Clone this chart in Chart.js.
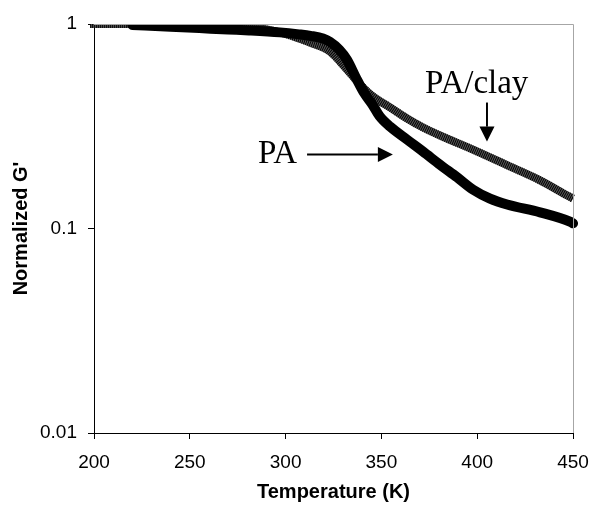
<!DOCTYPE html>
<html>
<head>
<meta charset="utf-8">
<script src="https://cdn.jsdelivr.net/npm/chart.js@4/dist/chart.umd.min.js"></script>
<style>
  html, body { margin: 0; padding: 0; background: #fff; }
  #wrap { width: 593px; height: 509px; position: relative; }
</style>
</head>
<body>
<div id="wrap"><canvas id="c" width="593" height="509"></canvas></div>
<script>
// ---- data ----
const paTemp = [220, 240, 255, 270, 281, 297, 307, 313, 319.5, 323, 328, 332, 337, 341, 345.6, 349, 354.5, 363.4, 371.7, 380.6, 389.5, 397.8, 406.7, 415.6, 432.8, 448.4, 450];
const paG    = [0.99, 0.97, 0.955, 0.94, 0.93, 0.91, 0.89, 0.875, 0.85, 0.82, 0.75, 0.67, 0.54, 0.46, 0.40, 0.355, 0.315, 0.272, 0.238, 0.205, 0.178, 0.155, 0.140, 0.131, 0.120, 0.108, 0.106];

const clayTemp = [198, 220, 250, 281, 297, 307, 313, 323, 331, 339, 345.6, 354.5, 363.4, 371.7, 380.6, 397.8, 415.6, 432.8, 447, 450];
const clayG    = [1.0, 1.0, 0.98, 0.965, 0.91, 0.85, 0.81, 0.735, 0.615, 0.505, 0.442, 0.391, 0.345, 0.312, 0.285, 0.243, 0.204, 0.172, 0.145, 0.140];

const yTickValues = [0.01, 0.1, 1];
const yTickLabels = ["0.01", "0.1", "1"];
const xTitle = "Temperature (K)";
const yTitle = "Normalized G'";

// annotation texts with anchor points in data units
const annoLabels = ["PA", "PA/clay"];
const annoTextT = [285.6, 372.8];
const annoTextG = [0.208, 0.462];
// PA arrow: horizontal; PA/clay arrow: vertical
const paArrowT = [311.2, 356.0];
const paArrowG = [0.230, 0.230];
const clayArrowT = [405.1, 405.1];
const clayArrowG = [0.413, 0.266];

const toXY = (xs, ys) => xs.map((x, i) => ({x: x, y: ys[i]}));

const frame = {
  id: 'frame',
  afterDatasetsDraw(chart) {
    const {ctx, chartArea: a, scales} = chart;
    ctx.save();
    ctx.strokeStyle = '#a6a6a6';
    ctx.lineWidth = 1;
    ctx.beginPath();
    ctx.moveTo(a.left, a.top + 0.5);
    ctx.lineTo(a.right + 0.5, a.top + 0.5);
    ctx.lineTo(a.right + 0.5, a.bottom);
    ctx.stroke();

    const xs = scales.x, ys = scales.y;
    ctx.fillStyle = '#000';
    ctx.font = '33px "Liberation Serif", "Times New Roman", serif';
    ctx.textAlign = 'left';
    ctx.textBaseline = 'alphabetic';
    for (let i = 0; i < annoLabels.length; i++) {
      ctx.fillText(annoLabels[i], xs.getPixelForValue(annoTextT[i]), ys.getPixelForValue(annoTextG[i]));
    }
    function arrow(x0, y0, x1, y1) {
      const ang = Math.atan2(y1 - y0, x1 - x0);
      const hl = 15, hw = 7.5;
      const bx = x1 - hl * Math.cos(ang), by = y1 - hl * Math.sin(ang);
      ctx.strokeStyle = '#000';
      ctx.lineWidth = 2;
      ctx.beginPath();
      ctx.moveTo(x0, y0);
      ctx.lineTo(bx, by);
      ctx.stroke();
      ctx.beginPath();
      ctx.moveTo(x1, y1);
      ctx.lineTo(bx + hw * Math.sin(ang), by - hw * Math.cos(ang));
      ctx.lineTo(bx - hw * Math.sin(ang), by + hw * Math.cos(ang));
      ctx.closePath();
      ctx.fill();
    }
    arrow(xs.getPixelForValue(paArrowT[0]), ys.getPixelForValue(paArrowG[0]),
          xs.getPixelForValue(paArrowT[1]), ys.getPixelForValue(paArrowG[1]));
    arrow(xs.getPixelForValue(clayArrowT[0]), ys.getPixelForValue(clayArrowG[0]),
          xs.getPixelForValue(clayArrowT[1]), ys.getPixelForValue(clayArrowG[1]));
    ctx.restore();
  }
};

const clip = {left: 5, right: 5, top: 0, bottom: 0};

new Chart(document.getElementById('c'), {
  type: 'line',
  data: {
    datasets: [
      { label: 'PA/clay base', data: toXY(clayTemp, clayG), borderColor: '#5a5a5a', borderWidth: 8,
        pointRadius: 0, cubicInterpolationMode: 'monotone', clip: clip, order: 3 },
      { label: 'PA/clay hatch', data: toXY(clayTemp, clayG), borderColor: '#000', borderWidth: 8,
        borderDash: [1, 1], pointRadius: 0, cubicInterpolationMode: 'monotone', clip: clip, order: 2 },
      { label: 'PA', data: toXY(paTemp, paG), borderColor: '#000', borderWidth: 10,
        pointRadius: 0, cubicInterpolationMode: 'monotone', clip: clip, order: 1, borderCapStyle: 'round' }
    ]
  },
  options: {
    responsive: false,
    animation: false,
    events: [],
    layout: { padding: { left: 0, top: 24, right: 20, bottom: 0 } },
    plugins: { legend: { display: false }, tooltip: { enabled: false } },
    scales: {
      x: {
        type: 'linear', min: 200, max: 450,
        ticks: { stepSize: 50, color: '#000', padding: 12, maxRotation: 0,
                 font: { family: '"Liberation Sans", Arial, sans-serif', size: 19 } },
        grid: { display: true, drawOnChartArea: false, drawTicks: true, tickLength: 6, color: '#000' },
        border: { display: true, color: '#000', width: 1 },
        title: { display: true, text: xTitle, color: '#000', padding: { top: 0, bottom: 5 },
                 font: { family: '"Liberation Sans", Arial, sans-serif', size: 20, weight: 'bold' } },
        afterFit(s) { s.height = 76; s.paddingLeft = 0; s.paddingRight = 0; }
      },
      y: {
        type: 'logarithmic', min: 0.01, max: 1,
        afterBuildTicks(s) { s.ticks = yTickValues.map(v => ({value: v})); },
        ticks: { color: '#000', padding: 11,
                 callback: (v) => { const i = yTickValues.indexOf(v); return i >= 0 ? yTickLabels[i] : ''; },
                 font: { family: '"Liberation Sans", Arial, sans-serif', size: 19 } },
        grid: { display: true, drawOnChartArea: false, drawTicks: true, tickLength: 6, color: '#000' },
        border: { display: true, color: '#000', width: 1 },
        title: { display: true, text: yTitle, color: '#000', padding: { top: 9, bottom: 0 },
                 font: { family: '"Liberation Sans", Arial, sans-serif', size: 20, weight: 'bold' } },
        afterFit(s) { s.width = 94; s.paddingTop = 0; s.paddingBottom = 0; }
      }
    }
  },
  plugins: [frame]
});
</script>
</body>
</html>
